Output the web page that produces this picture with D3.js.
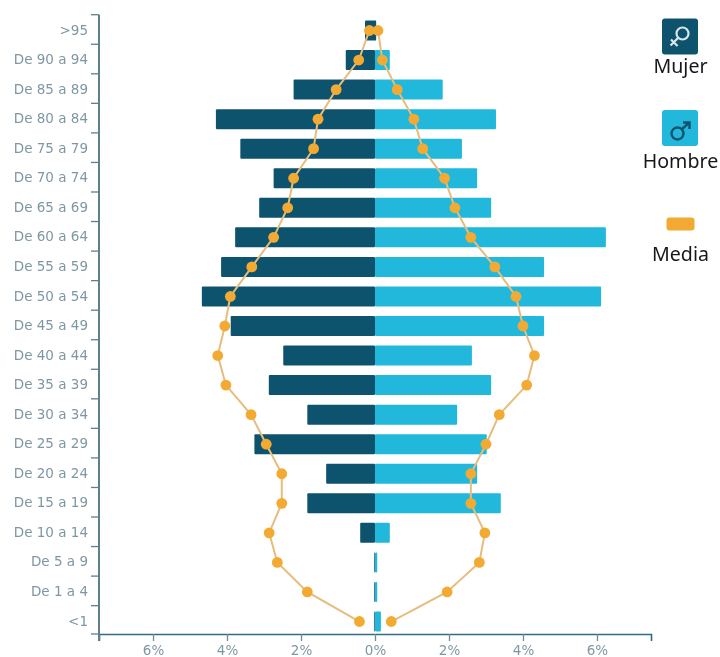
<!DOCTYPE html>
<html lang="es">
<head>
    <meta charset="UTF-8">
    <title>Piramide de poblacion</title>
    <script src="https://d3js.org/d3.v7.min.js"></script>
    <style>
        body{ margin: 0; background: #fff; }
        svg{ display: block; }
        .tick text{
            font-family: 'DejaVu Sans', sans-serif;
            font-size: 13.5px;
            fill: #7f97a3;
        }
        .legend{
            font-family: 'Noto Sans', 'Open Sans', sans-serif;
            font-size: 19.6px;
            fill: #15191c;
            text-anchor: middle;
        }
    </style>
</head>
<body>
    <svg width="720" height="657" viewBox="0 0 720 657"></svg>
    <script>
        const edades = [">95", "De 90 a 94", "De 85 a 89", "De 80 a 84", "De 75 a 79", "De 70 a 74", "De 65 a 69",
            "De 60 a 64", "De 55 a 59", "De 50 a 54", "De 45 a 49", "De 40 a 44", "De 35 a 39", "De 30 a 34",
            "De 25 a 29", "De 20 a 24", "De 15 a 19", "De 10 a 14", "De 5 a 9", "De 1 a 4", "<1"];
        const mujer = [0.27, 0.79, 2.2, 4.3, 3.64, 2.74, 3.13, 3.78, 4.16, 4.68, 3.9, 2.48, 2.87, 1.83, 3.26, 1.32, 1.83, 0.4, 0.02, 0.02, 0.02];
        const hombre = [0.03, 0.4, 1.83, 3.27, 2.35, 2.76, 3.14, 6.24, 4.57, 6.11, 4.57, 2.62, 3.14, 2.22, 3.02, 2.76, 3.4, 0.4, 0.06, 0.06, 0.16];
        const mediaMujer = [0.15, 0.44, 1.05, 1.54, 1.66, 2.2, 2.36, 2.74, 3.33, 3.91, 4.06, 4.25, 4.03, 3.35, 2.94, 2.52, 2.52, 2.86, 2.64, 1.83, 0.42];
        const mediaHombre = [0.08, 0.2, 0.6, 1.05, 1.29, 1.88, 2.16, 2.59, 3.24, 3.81, 4.0, 4.31, 4.1, 3.36, 3.0, 2.59, 2.59, 2.97, 2.82, 1.95, 0.44];
        const ticksX = [-6, -4, -2, 0, 2, 4, 6];
        // the top bar is dark on both sides of zero
        const mujerCruce = [0.03];

        const oscuro = "#10536e", claro = "#22b8dc", naranja = "#f3aa33", lineaMedia = "#e6bd7e";

        const svg = d3.select("svg");
        // whole picture is slightly soft
        svg.append("defs").append("filter").attr("id", "soft")
            .append("feGaussianBlur").attr("stdDeviation", 0.4);
        const root = svg.append("g").attr("filter", "url(#soft)");

        const scaleX = d3.scaleLinear().domain([-7.46, 7.46]).range([99, 651]);
        const scaleY = d3.scaleBand().domain(edades).range([15.7, 636.3]).paddingInner(0.323).paddingOuter(0.1615);
        const edgeY = d3.scaleBand().domain(edades).range([14.7, 635.2]);
        const axisBottomY = 634;
        const centerY = d => scaleY(d) + scaleY.bandwidth() / 2;

        // bars
        root.append("g").selectAll("rect.hombre")
            .data(edades)
            .join("rect").attr("class", "hombre")
            .attr("x", scaleX(0))
            .attr("y", d => scaleY(d))
            .attr("width", (d, i) => scaleX(hombre[i]) - scaleX(0))
            .attr("height", scaleY.bandwidth())
            .attr("rx", 1)
            .attr("fill", claro);
        root.append("g").selectAll("rect.mujer")
            .data(edades)
            .join("rect").attr("class", "mujer")
            .attr("x", (d, i) => scaleX(-mujer[i]))
            .attr("y", d => scaleY(d))
            .attr("width", (d, i) => scaleX(mujerCruce[i] || 0) - scaleX(-mujer[i]))
            .attr("height", scaleY.bandwidth())
            .attr("rx", 1)
            .attr("fill", oscuro);

        // mean lines and points
        const line = d3.line().x(d => scaleX(d[0])).y(d => centerY(d[1]));
        [mediaMujer.map(v => -v), mediaHombre].forEach(serie => {
            const pts = serie.map((v, i) => [v, edades[i]]);
            root.append("path")
                .attr("d", line(pts))
                .attr("fill", "none")
                .attr("stroke", lineaMedia)
                .attr("stroke-width", 2);
            root.append("g").selectAll("circle")
                .data(pts)
                .join("circle")
                .attr("cx", d => scaleX(d[0]))
                .attr("cy", d => centerY(d[1]))
                .attr("r", 5.4)
                .attr("fill", naranja);
        });

        // axes
        const axisX = d3.axisBottom(scaleX)
            .tickValues(ticksX)
            .tickFormat(d => Math.abs(d) + "%")
            .tickSize(7)
            .tickPadding(4);
        const xG = root.append("g")
            .attr("transform", `translate(${[0, axisBottomY]})`)
            .call(axisX);
        xG.select(".domain").attr("stroke", "#2f6c88").attr("stroke-width", 1.6);
        xG.selectAll(".tick line").attr("stroke", "#6e8b99").attr("stroke-width", 1.3);

        const axisY = d3.axisLeft(scaleY).tickSize(0).tickPadding(11);
        const yG = root.append("g")
            .attr("transform", `translate(${[99, 0]})`)
            .call(axisY);
        yG.select(".domain").remove();
        yG.selectAll(".tick text").attr("dy", "0.3em");

        const marcas = edades.map(d => edgeY(d)).concat(axisBottomY);
        root.append("g").selectAll("line")
            .data(marcas)
            .join("line")
            .attr("x1", 91).attr("x2", 99)
            .attr("y1", d => d).attr("y2", d => d)
            .attr("stroke", "#5f7f8e")
            .attr("stroke-width", 1.3);
        root.append("line")
            .attr("x1", 99).attr("x2", 99)
            .attr("y1", marcas[0]).attr("y2", axisBottomY + 7)
            .attr("stroke", "#5f7f8e")
            .attr("stroke-width", 2);

        // legend
        const legend = root.append("g");
        legend.append("rect").attr("x", 662).attr("y", 18.5).attr("width", 36).attr("height", 36).attr("rx", 3).attr("fill", oscuro);
        legend.append("rect").attr("x", 662).attr("y", 110).attr("width", 36).attr("height", 36).attr("rx", 3).attr("fill", claro);
        legend.append("rect").attr("x", 666.5).attr("y", 217.5).attr("width", 28).attr("height", 13).attr("rx", 3).attr("fill", naranja);

        // female symbol
        const fem = legend.append("g").attr("fill", "none").attr("stroke", "#dbe6ea").attr("stroke-width", 2.2);
        fem.append("circle").attr("cx", 682.5).attr("cy", 33.5).attr("r", 6);
        fem.append("path").attr("d", "M678 38 L670.5 45.5 M671 39.5 L677.5 46");
        // male symbol
        const mas = legend.append("g").attr("fill", "none").attr("stroke", oscuro).attr("stroke-width", 2.4);
        mas.append("circle").attr("cx", 677.5).attr("cy", 133.5).attr("r", 6);
        mas.append("path").attr("d", "M682 129 L689.5 122.5 M683 122.5 L689.5 122.5 L689.5 129");

        const legendText = ["Mujer", "Hombre", "Media"];
        const legendY = [73, 168, 261];
        legend.selectAll("text")
            .data(legendText)
            .join("text").attr("class", "legend")
            .attr("x", 680.5)
            .attr("y", (d, i) => legendY[i])
            .text(d => d);
    </script>
</body>
</html>
